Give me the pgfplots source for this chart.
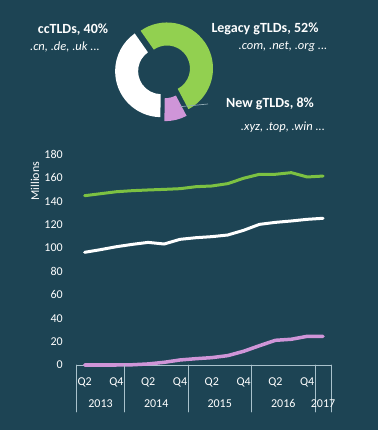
\documentclass[border=0pt]{standalone}
\usepackage{pgfplots}
\pgfplotsset{compat=1.18}
\usepackage{pgfplotstable}
\usepackage{fontspec}
\setmainfont{Carlito}
\definecolor{bg}{HTML}{1D4454}
\definecolor{lgreen}{HTML}{7CC142}
\definecolor{dgreen}{HTML}{92D050}
\definecolor{lpurple}{HTML}{CF95D8}
\definecolor{axiscol}{HTML}{A9C2CC}
\definecolor{leadcol}{HTML}{8FA9B3}

\pgfplotstableread{
q   legacy  cc     newg
0   144.7   96.3   0.0
1   146.4   98.6   0.0
2   148.1   101.1  0.0
3   149.0   103.1  0.2
4   149.6   104.8  0.9
5   150.1   103.4  2.3
6   150.7   107.4  4.3
7   152.4   108.8  5.4
8   153.0   109.7  6.3
9   155.0   111.1  8.0
10  159.6   115.1  11.7
11  163.0   120.2  16.5
12  163.0   121.9  21.1
13  164.4   123.1  22.0
14  160.7   124.5  24.5
15  161.5   125.4  24.5
}\tldtable

% donut shares (percent)
\def\vLegacy{52}
\def\vNew{8}
\def\vCc{40}

\newcommand\donutslice[5]{%
 \fill[#1, shift={(axis cs:0,0)}, shift={(#5:#4bp)}] (#2:46bp)
   arc[start angle=#2,end angle=#3,radius=46bp]
   -- (#3:23bp)
   arc[start angle=#3,end angle=#2,radius=23bp] -- cycle;}

\begin{document}
\begin{tikzpicture}
\fill[bg] (0,0) rectangle (378bp,430bp);
\useasboundingbox (0,0) rectangle (378bp,430bp);

\pgfmathsetmacro\gA{125}
\pgfmathsetmacro\gB{\gA-3.6*\vLegacy}
\pgfmathsetmacro\pA{\gB}
\pgfmathsetmacro\pB{\pA-3.6*\vNew}
\pgfmathsetmacro\wA{\pB}
\pgfmathsetmacro\wB{\wA-3.6*\vCc}
\pgfmathsetmacro\gM{(\gA+\gB)/2}
\pgfmathsetmacro\pM{(\pA+\pB)/2}
\pgfmathsetmacro\wM{(\wA+\wB)/2}

\begin{axis}[at={(164bp,359.7bp)}, anchor=origin, hide axis,
  x=1bp, y=1bp, xmin=-50, xmax=50, ymin=-50, ymax=50, clip=false]
  \donutslice{dgreen}{\gA}{\gB}{3.5}{\gM}
  \donutslice{lpurple}{\pA}{\pB}{5}{\pM}
  \donutslice{white}{\wA}{\wB}{3}{\wM}
  \draw[leadcol, line width=0.7bp] (axis cs:16,-36.4) -- (axis cs:44,-33.7);
\end{axis}

\begin{scope}[every node/.style={text=white, inner sep=0pt}]
\node[anchor=base, font=\fontsize{14bp}{16bp}\selectfont\bfseries] at (73bp,396bp) {ccTLDs, 40\%};
\node[anchor=base, font=\fontsize{12.5bp}{15bp}\selectfont\itshape] at (65bp,379bp) {.cn, .de, .uk ...};
\node[anchor=base, font=\fontsize{14bp}{16bp}\selectfont\bfseries] at (265bp,397.7bp) {Legacy gTLDs, 52\%};
\node[anchor=base, font=\fontsize{12.5bp}{15bp}\selectfont\itshape] at (283bp,380.3bp) {.com, .net, .org ...};
\node[anchor=base, font=\fontsize{14bp}{16bp}\selectfont\bfseries] at (270bp,322bp) {New gTLDs, 8\%};
\node[anchor=base, font=\fontsize{12.5bp}{15bp}\selectfont\itshape] at (283bp,299.3bp) {.xyz, .top, .win ...};
\node[rotate=90, font=\fontsize{12bp}{14bp}\selectfont] at (35bp,249bp) {Millions};
\end{scope}

\begin{axis}[at={(76.7bp,65bp)}, anchor=south west, scale only axis,
  width=254.3bp, height=210.6bp,
  xmin=-0.5, xmax=15.5, ymin=0, ymax=180, clip=false,
  axis x line=bottom, axis y line=left,
  x axis line style={draw=axiscol, line width=0.8bp, -},
  y axis line style={draw=none},
  xtick style={draw=none}, ytick style={draw=none},
  ytick={0,20,...,180},
  xtick={0,2,4,6,8,10,12,14},
  xticklabels={Q2,Q4,Q2,Q4,Q2,Q4,Q2,Q4},
  /pgf/number format/assume math mode=true,
  tick label style={font=\fontsize{12bp}{14bp}\selectfont, text=white, inner sep=0pt},
  yticklabel style={anchor=east, xshift=-11.7bp},
  xticklabel style={anchor=base, yshift=-18.5bp},
  line join=round, line cap=round,
]
  \addplot[lgreen, line width=3bp] table[x=q, y=legacy] {\tldtable};
  \addplot[white, line width=3bp] table[x=q, y=cc] {\tldtable};
  \addplot[lpurple, line width=3.5bp] table[x=q, y=newg] {\tldtable};
  \foreach \s in {-0.5,2.5,6.5,10.5,14.5,15.5}{
    \edef\tmp{\noexpand\draw[axiscol, line width=0.8bp] (axis cs:\s,0) -- ([yshift=-47bp]axis cs:\s,0);}\tmp
  }
  \node[anchor=base, text=white, inner sep=0pt, font=\fontsize{12bp}{14bp}\selectfont] at ([yshift=-42.5bp]axis cs:1,0) {2013};
  \node[anchor=base, text=white, inner sep=0pt, font=\fontsize{12bp}{14bp}\selectfont] at ([yshift=-42.5bp]axis cs:4.5,0) {2014};
  \node[anchor=base, text=white, inner sep=0pt, font=\fontsize{12bp}{14bp}\selectfont] at ([yshift=-42.5bp]axis cs:8.5,0) {2015};
  \node[anchor=base, text=white, inner sep=0pt, font=\fontsize{12bp}{14bp}\selectfont] at ([yshift=-42.5bp]axis cs:12.5,0) {2016};
  \node[anchor=base, text=white, inner sep=0pt, font=\fontsize{12bp}{14bp}\selectfont] at ([yshift=-42.5bp]axis cs:15,0) {2017};
\end{axis}
\end{tikzpicture}
\end{document}
